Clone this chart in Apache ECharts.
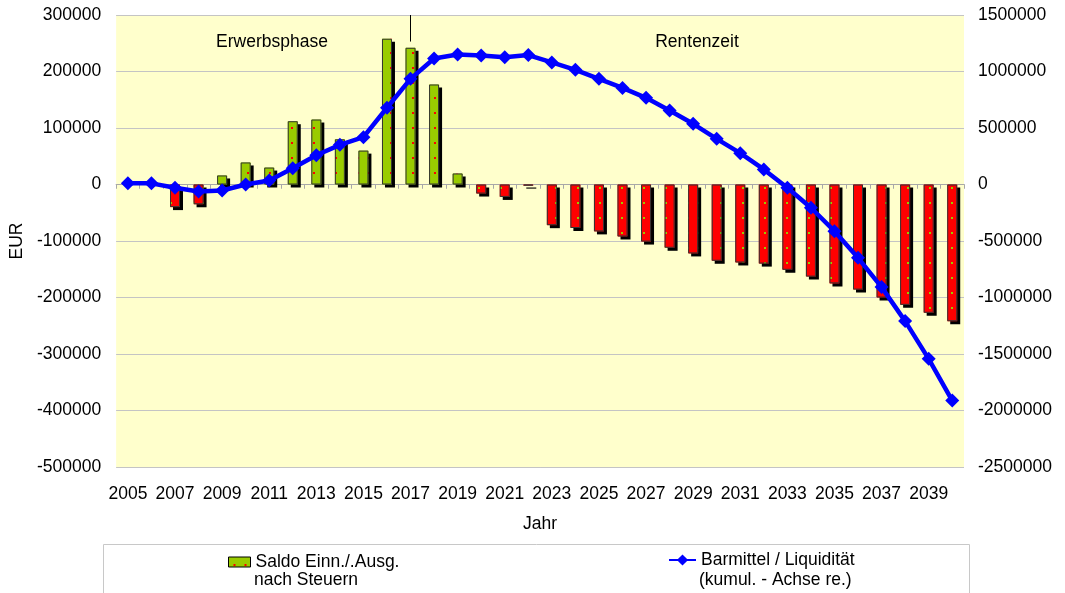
<!DOCTYPE html>
<html>
<head>
<meta charset="utf-8">
<script src="https://cdn.jsdelivr.net/npm/echarts@6/dist/echarts.min.js"></script>
<style>
html,body{margin:0;padding:0;background:#fff;}
#chart{width:1065px;height:593px;}
</style>
</head>
<body>
<div id="chart"></div>
<script>
const years = ['2005','2006','2007','2008','2009','2010','2011','2012','2013','2014','2015','2016','2017','2018','2019','2020','2021','2022','2023','2024','2025','2026','2027','2028','2029','2030','2031','2032','2033','2034','2035','2036','2037','2038','2039','2040'];
const saldo = [0,0,-40000,-35000,16000,39000,30000,112000,115000,80000,60000,258000,242000,177000,19500,-16000,-22000,-2000,-72000,-77000,-83000,-92000,-101000,-112000,-122000,-135000,-138000,-140000,-151000,-163000,-175000,-186000,-200000,-213000,-227000,-242000];
const barmittel = [10000,10000,-29000,-62000,-53000,0,35000,144000,259000,351000,419000,679000,935000,1115000,1150000,1141000,1127000,1145000,1080000,1015000,935000,855000,767000,655000,537000,404000,277000,133000,-29000,-206000,-413000,-649000,-908000,-1209000,-1543000,-1912000];
const seriesNames = ['Saldo Einn./.Ausg.\nnach Steuern', 'Barmittel / Liquidität\n(kumul. - Achse re.)'];
const phaseLabels = ['Erwerbsphase', 'Rentenzeit'];
const phaseSplitYear = '2017';
const leftAxisName = 'EUR';
const xAxisName = 'Jahr';

function makePattern(bg, dot) {
  const c = document.createElement('canvas');
  c.width = 11; c.height = 15;
  const ctx = c.getContext('2d');
  ctx.fillStyle = bg; ctx.fillRect(0, 0, 11, 15);
  ctx.fillStyle = dot; ctx.fillRect(5, 7, 2, 2);
  return { image: c, repeat: 'repeat' };
}
const greenPat = makePattern('#99CC00', '#FF0000');
const redPat = makePattern('#FF0000', '#99CC00');

const FONT = "'Liberation Sans', Arial, sans-serif";
const FS = 17.5;
const plain = v => String(v);
const chart = echarts.init(document.getElementById('chart'), null, { renderer: 'canvas' });

const barData = saldo.map(v => v < 0 ? { value: v, itemStyle: { color: redPat } } : { value: v });

chart.setOption({
  animation: false,
  backgroundColor: '#ffffff',
  textStyle: { fontFamily: FONT },
  grid: { left: 115, right: 101, top: 15, bottom: 126, show: true, backgroundColor: '#FFFFCC', borderWidth: 0 },
  legend: [
    { data: [seriesNames[0]], left: 228, top: 553, padding: 0, itemWidth: 22, itemHeight: 10, icon: 'rect',
      formatter: n => n.split('\n')[0],
      textStyle: { fontSize: FS, color: '#000', fontFamily: FONT },
      itemStyle: { color: greenPat, borderColor: '#000', borderWidth: 1, shadowBlur: 0, shadowOffsetX: 0, shadowOffsetY: 0 } },
    { data: [seriesNames[1]], left: 668, top: 551, padding: 0, itemWidth: 27, itemHeight: 14,
      formatter: n => n.split('\n')[0],
      textStyle: { fontSize: FS, color: '#000', fontFamily: FONT } }
  ],
  graphic: [
    { type: 'rect', left: 103, top: 544, z: -1, shape: { width: 866, height: 60 }, style: { fill: '#fff', stroke: '#c8c8c8', lineWidth: 1 } },
    { type: 'text', left: 254, top: 571, style: { text: seriesNames[0].split('\n')[1], fontSize: FS, fill: '#000', fontFamily: FONT } },
    { type: 'text', left: 699, top: 571, style: { text: seriesNames[1].split('\n')[1], fontSize: FS, fill: '#000', fontFamily: FONT } },
    { type: 'text', x: 272, y: 42, style: { text: phaseLabels[0], fontSize: FS, fill: '#000', fontFamily: FONT, textAlign: 'center', textVerticalAlign: 'middle' } },
    { type: 'text', x: 697, y: 42, style: { text: phaseLabels[1], fontSize: FS, fill: '#000', fontFamily: FONT, textAlign: 'center', textVerticalAlign: 'middle' } }
  ],
  xAxis: [
    { type: 'category', data: years, boundaryGap: true,
      axisLine: { show: true, onZero: true, onZeroAxisIndex: 0, lineStyle: { color: '#a8a8a8', width: 1 } },
      axisTick: { show: true, interval: 0, length: 4, lineStyle: { color: '#a8a8a8' } },
      axisLabel: { show: false }, splitLine: { show: false } },
    { type: 'category', data: years, boundaryGap: true, position: 'bottom',
      axisLine: { show: false, onZero: false }, axisTick: { show: false },
      axisLabel: { show: true, interval: 1, margin: 18, fontSize: FS, color: '#000', fontFamily: FONT },
      name: xAxisName, nameLocation: 'middle', nameGap: 48, nameTextStyle: { fontSize: FS, color: '#000', fontFamily: FONT } },
    { type: 'category', data: years, boundaryGap: true,
      axisLine: { show: false, onZero: true, onZeroAxisIndex: 0 },
      axisTick: { show: true, inside: true, interval: 0, length: 4, lineStyle: { color: '#a8a8a8' } },
      axisLabel: { show: false } }
  ],
  yAxis: [
    { type: 'value', min: -500000, max: 300000, interval: 100000,
      axisLine: { show: false }, axisTick: { show: false },
      axisLabel: { fontSize: FS, color: '#000', margin: 15, fontFamily: FONT, formatter: plain },
      splitLine: { show: true, lineStyle: { color: '#c4c4c4', width: 1 } },
      name: leftAxisName, nameLocation: 'middle', nameGap: 87, nameRotate: 90,
      nameTextStyle: { fontSize: FS, color: '#000', fontFamily: FONT } },
    { type: 'value', min: -2500000, max: 1500000, interval: 500000, position: 'right',
      axisLine: { show: false }, axisTick: { show: false },
      axisLabel: { fontSize: FS, color: '#000', margin: 14, fontFamily: FONT, formatter: plain },
      splitLine: { show: false } }
  ],
  series: [
    { name: seriesNames[0], type: 'bar', xAxisIndex: 0, yAxisIndex: 0, barWidth: 10, barGap: '-100%',
      data: barData,
      itemStyle: { color: greenPat, borderWidth: 0, shadowColor: '#000', shadowBlur: 0, shadowOffsetX: 3, shadowOffsetY: 3 },
      markLine: { silent: true, symbol: 'none', label: { show: false },
        lineStyle: { color: '#000', width: 1, type: 'solid' },
        data: [[{ coord: [phaseSplitYear, 300000] }, { coord: [phaseSplitYear, 253000] }]] } },
    { name: 'outline', type: 'bar', xAxisIndex: 0, yAxisIndex: 0, barWidth: 10, barGap: '-100%',
      data: saldo, silent: true, z: 3,
      itemStyle: { color: 'rgba(0,0,0,0)', borderColor: '#333', borderWidth: 1 } },
    { name: seriesNames[1], type: 'line', xAxisIndex: 0, yAxisIndex: 1, data: barmittel, z: 5,
      symbol: 'diamond', symbolSize: 14, showAllSymbol: true,
      lineStyle: { color: '#0000FF', width: 4.5 }, itemStyle: { color: '#0000FF' } }
  ]
});
</script>
</body>
</html>
